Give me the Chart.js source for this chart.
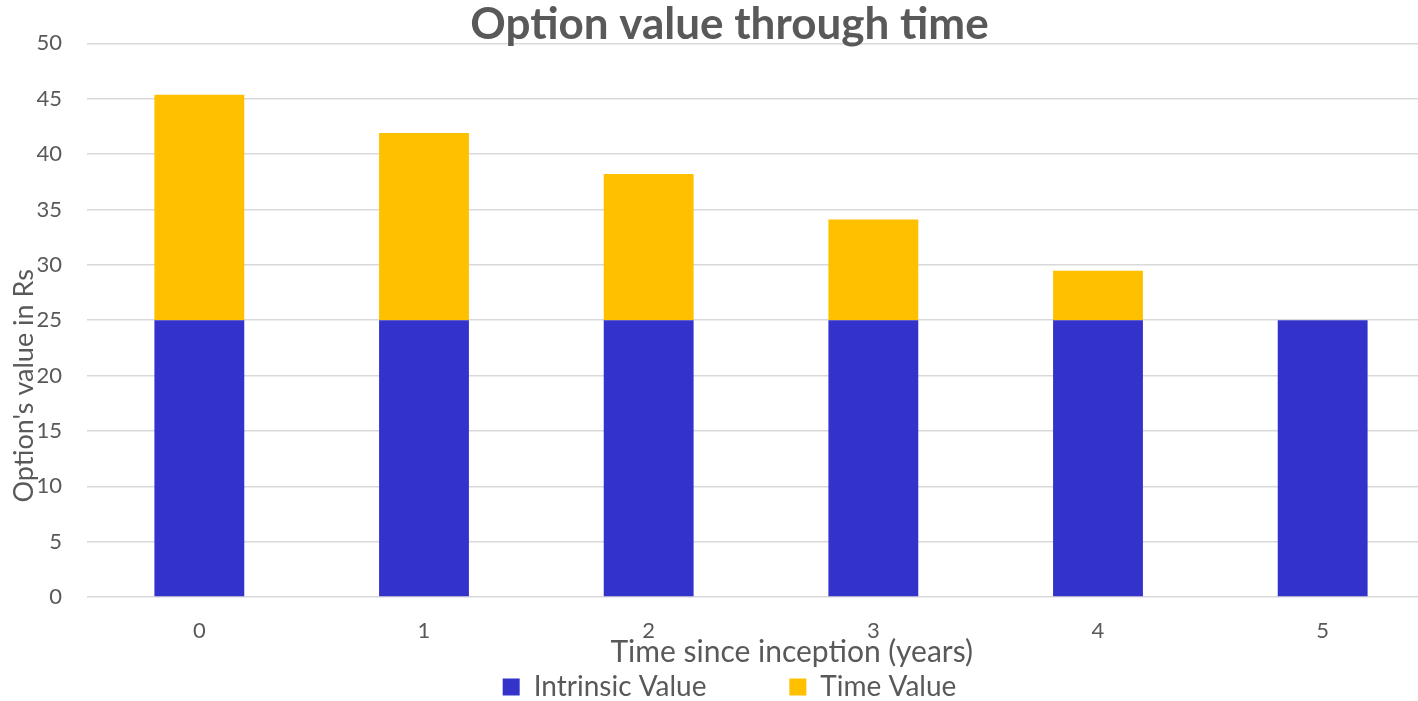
<!DOCTYPE html>
<html>
<head>
<meta charset="utf-8">
<title>Option value through time</title>
<script src="https://cdn.jsdelivr.net/npm/chart.js@4/dist/chart.umd.min.js"></script>
<style>
  html, body { margin: 0; padding: 0; background: #fff; overflow: hidden; }
  #wrap { position: absolute; left: 0; top: 0; width: 1435px; height: 711px; }
</style>
</head>
<body>
<div id="wrap"><canvas id="optionChart"></canvas></div>
<script>
const years = ['0', '1', '2', '3', '4', '5'];
const intrinsicValue = [25, 25, 25, 25, 25, 25];
const timeValue = [20.35, 16.9, 13.2, 9.1, 4.45, 0];
const yTicks = { min: 0, max: 50, step: 5 };

const textColor = '#595959';
Chart.defaults.font.family = 'Lato, "Open Sans", sans-serif';
Chart.defaults.color = textColor;

const ctx = document.getElementById('optionChart').getContext('2d');
const myChart = new Chart(ctx, {
    type: 'bar',
    data: {
        labels: years,
        datasets: [{
            label: 'Intrinsic Value',
            data: intrinsicValue,
            backgroundColor: '#3333cc',
            borderWidth: 0,
            categoryPercentage: 1,
            barPercentage: 0.4
        }, {
            label: 'Time Value',
            data: timeValue,
            backgroundColor: '#ffc000',
            borderWidth: 0,
            categoryPercentage: 1,
            barPercentage: 0.4
        }]
    },
    options: {
        responsive: true,
        maintainAspectRatio: false,
        animation: false,
        layout: { padding: { left: 24 } },
        plugins: {
            title: {
                display: true,
                text: 'Option value through time',
                color: textColor,
                font: { size: 44, weight: 'bold', lineHeight: 1 },
                padding: { top: 3, bottom: -3.7 }
            },
            legend: {
                position: 'bottom',
                labels: {
                    color: textColor,
                    font: { size: 28 },
                    boxWidth: 17,
                    boxHeight: 17,
                    padding: 4,
                    generateLabels: (chart) =>
                        Chart.defaults.plugins.legend.labels.generateLabels(chart).map((item, i) => {
                            if (i === 0) item.text = item.text + ' '.repeat(11);
                            return item;
                        })
                }
            },
            tooltip: { enabled: false }
        },
        scales: {
            x: {
                stacked: true,
                grid: { display: false },
                border: { display: false },
                ticks: { font: { size: 22, lineHeight: 1 }, padding: 15, color: textColor },
                title: {
                    display: true,
                    text: ' '.repeat(8) + 'Time since inception (years)',
                    color: textColor,
                    font: { size: 30, lineHeight: 1 },
                    padding: { top: -20, bottom: 2 }
                }
            },
            y: {
                stacked: true,
                min: yTicks.min,
                max: yTicks.max,
                afterFit: (scale) => { scale.width = 63; },
                grid: { color: '#d9d9d9', lineWidth: 1.5, drawTicks: false },
                border: { display: false },
                ticks: { stepSize: yTicks.step, font: { size: 22, lineHeight: 1 }, padding: 25, color: textColor },
                title: {
                    display: true,
                    text: "Option's value in Rs" + ' '.repeat(19),
                    color: textColor,
                    font: { size: 27, lineHeight: 1 },
                    padding: { top: -13.5, bottom: 0 }
                }
            }
        }
    }
});
</script>
</body>
</html>
